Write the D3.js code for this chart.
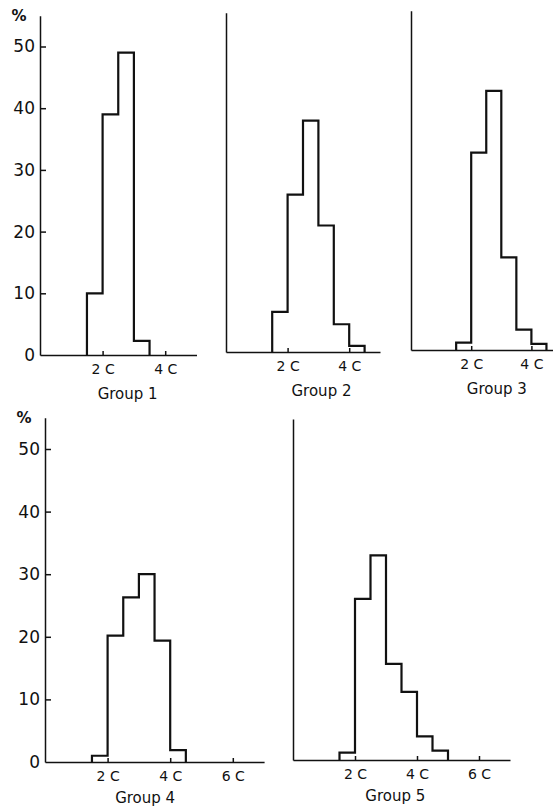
<!DOCTYPE html>
<html>
<head>
<meta charset="utf-8">
<script src="https://cdn.jsdelivr.net/npm/d3@7"></script>
<style>
  body { margin: 0; background: #fff; }
  svg { display: block; }
  .tick text { font-family: "DejaVu Sans", sans-serif; fill: #111; }
  .domain, .tick line { stroke: #111; stroke-width: 1.5; }
  .hist { fill: none; stroke: #111; stroke-width: 2.2; stroke-linejoin: miter; }
  .glabel { font-family: "DejaVu Sans", sans-serif; font-size: 15px; fill: #111; }
</style>
</head>
<body>
<svg width="553" height="809"></svg>
<script>
const groupNames = ['Group 1', 'Group 2', 'Group 3', 'Group 4', 'Group 5'];

// percent of cells per half-C class, classes start at 1.5 C
const binStart = 1.5;
const binWidth = 0.5;
const group1 = [10, 39, 49, 2.3];
const group2 = [6.5, 25.5, 37.5, 20.5, 4.5, 1];
const group3 = [1.2, 32, 42, 15, 3.3, 1];
const group4 = [1, 20.2, 26.3, 30, 19.4, 1.9];
const group5 = [1.2, 26, 33, 15.5, 11, 3.8, 1.5];
const groups = [group1, group2, group3, group4, group5];

const yTicks = [0, 10, 20, 30, 40, 50];
const xTicksTop = [2, 4];
const xTicksBottom = [2, 4, 6];

// where each panel sits on the page
const layout = [
  { x0: 40, pxC: 31.3, base: 355, pxU: 6.17, xmax: 5, ticks: xTicksTop, yLabels: true, labelC: 2.8, labelDy: 44 },
  { x0: 226, pxC: 30.8, base: 352, pxU: 6.17, xmax: 5, ticks: xTicksTop, yLabels: false, labelC: 3.1, labelDy: 44 },
  { x0: 411, pxC: 30.1, base: 350, pxU: 6.17, xmax: 5, ticks: xTicksTop, yLabels: false, labelC: 2.85, labelDy: 44 },
  { x0: 45, pxC: 31.3, base: 762, pxU: 6.26, xmax: 7, ticks: xTicksBottom, yLabels: true, labelC: 3.2, labelDy: 41 },
  { x0: 293, pxC: 31, base: 760, pxU: 6.2, xmax: 7, ticks: xTicksBottom, yLabels: false, labelC: 3.3, labelDy: 41 }
];

const svg = d3.select('svg');

layout.forEach((p, i) => {
  const x = d3.scaleLinear().domain([0, p.xmax]).range([p.x0, p.x0 + p.xmax * p.pxC]);
  const y = d3.scaleLinear().domain([0, 55]).range([p.base, p.base - 55 * p.pxU]);
  const g = svg.append('g');

  // y axis
  const yAxis = d3.axisLeft(y).tickSizeOuter(0);
  if (p.yLabels) {
    yAxis.tickValues(yTicks).tickSizeInner(-6).tickPadding(5).tickFormat(d => d);
  } else {
    yAxis.tickValues([]);
  }
  g.append('g')
    .attr('transform', `translate(${p.x0},0)`)
    .call(yAxis)
    .call(a => a.selectAll('text').attr('font-size', 17))
    .call(a => a.selectAll('.tick').filter(d => d === 0).select('line').remove());

  if (p.yLabels) {
    g.append('text')
      .attr('class', 'glabel')
      .attr('x', p.x0 - 21)
      .attr('y', y(55) + 5)
      .attr('font-size', 14)
      .attr('font-weight', 'bold')
      .attr('text-anchor', 'middle')
      .text('%');
  }

  // x axis
  g.append('g')
    .attr('transform', `translate(0,${p.base})`)
    .call(
      d3.axisBottom(x)
        .tickValues(p.ticks)
        .tickSizeInner(-4)
        .tickSizeOuter(0)
        .tickPadding(9)
        .tickFormat(d => d + ' C')
    )
    .call(a => a.selectAll('text').attr('font-size', 14));

  // histogram outline
  const vals = groups[i];
  const pts = [[binStart, 0]];
  vals.forEach((v, k) => {
    pts.push([binStart + k * binWidth, v]);
    pts.push([binStart + (k + 1) * binWidth, v]);
  });
  pts.push([binStart + vals.length * binWidth, 0]);

  const line = d3.line().x(d => x(d[0])).y(d => y(d[1]));
  g.append('path')
    .attr('class', 'hist')
    .attr('d', line(pts));

  g.append('text')
    .attr('class', 'glabel')
    .attr('x', x(p.labelC))
    .attr('y', p.base + p.labelDy)
    .attr('text-anchor', 'middle')
    .text(groupNames[i]);
});
</script>
</body>
</html>
